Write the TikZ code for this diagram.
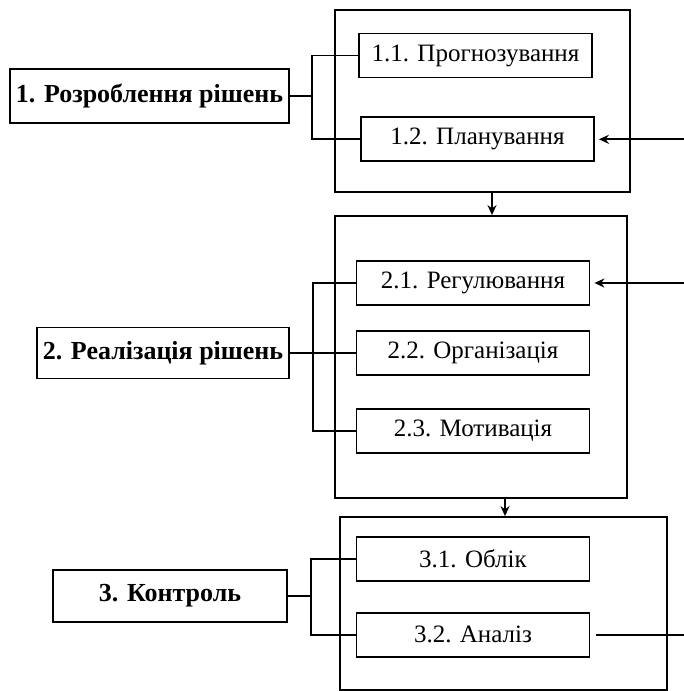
\documentclass[tikz,border=0pt]{standalone}
\usepackage{fontspec}
\setmainfont{Liberation Serif}
\usepackage{tikz}
\usetikzlibrary{arrows.meta,positioning}

\begin{document}
\begin{tikzpicture}[x=0.5pt, y=-0.5pt, line width=0.9pt, font=\fontsize{12.5}{14}\selectfont,
    frame/.style={draw, inner sep=0pt},
    subbox/.style={draw, minimum width=116.5pt, minimum height=22pt, inner sep=0pt},
    mainbox/.style={draw, minimum height=27pt, inner sep=0pt, font=\fontsize{13}{15}\selectfont\bfseries},
    arr/.style={-{Stealth[length=5pt, width=4.5pt]}}]
    \useasboundingbox (0,0) rectangle (684,691);
    % group frames
    \node[frame, minimum width=147.5pt, minimum height=91pt] (g1) at (482.5,101) {};
    \node[frame, minimum width=146pt, minimum height=141pt] (g2) at (481,357) {};
    \node[frame, minimum width=163.5pt, minimum height=86.5pt] (g3) at (503.5,603.5) {};
    % main steps
    \node[mainbox, minimum width=139.5pt] (dev) at (149.5,96) {1. Розроблення рішень};
    \node[mainbox, minimum width=126pt, minimum height=25.5pt] (impl) at (163,353) {2. Реалізація рішень};
    \node[mainbox, minimum width=117pt, minimum height=26pt] (ctrl) at (170,596) {3. Контроль};
    % sub steps
    \node[subbox] (forecast) at (475.5,55.5) {1.1. Прогнозування};
    \node[subbox, below=19pt of forecast, xshift=1pt] (planning) {1.2. Планування};
    \node[subbox] (regul) at (473,283) {2.1. Регулювання};
    \node[subbox, below=12pt of regul] (organ) {2.2. Організація};
    \node[subbox, below=16pt of organ] (motiv) {2.3. Мотивація};
    \node[subbox] (account) at (473,559) {3.1. Облік};
    \node[subbox, below=15pt of account] (analysis) {3.2. Аналіз};
    % branch points and free ends
    \coordinate (b1) at (312,0);
    \coordinate (b2) at (313,0);
    \coordinate (b3) at (311,0);
    \coordinate (edge) at (684,0);
    \coordinate (d1) at (492,0);
    \coordinate (d2) at (505,0);
    % connectors
    \draw (dev.east) -- (dev.east -| b1);
    \draw (forecast.west) -| (b1 |- dev.east) |- (planning.west);
    \draw (impl.east) -- (impl.east -| organ.west);
    \draw (regul.west) -| (b2 |- organ.west) |- (motiv.west);
    \draw (ctrl.east) -- (ctrl.east -| b3);
    \draw (account.west) -| (b3 |- ctrl.east) |- (analysis.west);
    \draw[arr, shorten >=2pt] (planning.east -| edge) -- (planning.east);
    \draw[arr, shorten >=2pt] (regul.east -| edge) -- (regul.east);
    \draw[shorten <=3pt] (analysis.east) -- (analysis.east -| edge);
    \draw[arr] (g1.south -| d1) -- (g2.north -| d1);
    \draw[arr] (g2.south -| d2) -- (g3.north -| d2);
\end{tikzpicture}
\end{document}
